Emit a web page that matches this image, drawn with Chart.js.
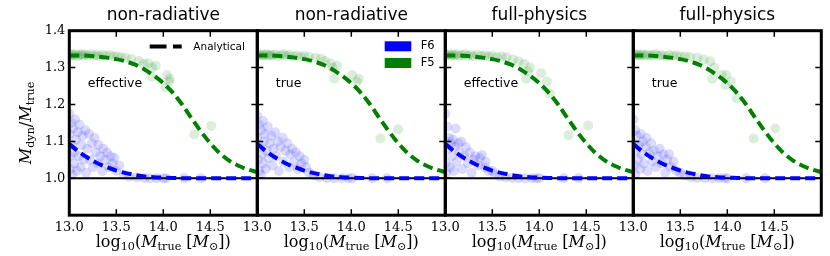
<!DOCTYPE html>
<html>
<head>
<meta charset="utf-8">
<script src="https://cdn.jsdelivr.net/npm/chart.js@4.4.0/dist/chart.umd.min.js"></script>
<style>
    body { margin: 0; background: #ffffff; }
    #wrap { position: relative; width: 830px; height: 256px; }
    #wrap canvas { position: absolute; left: 0; top: 0; }
</style>
</head>
<body>
<div id="wrap">
    <canvas id="p0" width="830" height="256"></canvas>
    <canvas id="p1" width="830" height="256"></canvas>
    <canvas id="p2" width="830" height="256"></canvas>
    <canvas id="p3" width="830" height="256"></canvas>
</div>
<script>
// Mass grid for analytical curves (log10 M_true)
const massGrid = [13.0, 13.1, 13.2, 13.3, 13.4, 13.5, 13.6, 13.7, 13.8, 13.9, 14.0,
                  14.1, 14.2, 14.3, 14.4, 14.5, 14.6, 14.7, 14.8, 14.9, 15.0];
const f5Analytic = [1.333, 1.333, 1.332, 1.330, 1.327, 1.323, 1.317, 1.308, 1.295, 1.278, 1.258,
                    1.232, 1.200, 1.163, 1.127, 1.095, 1.068, 1.048, 1.034, 1.024, 1.017];
const f6Analytic = [1.093, 1.072, 1.055, 1.041, 1.030, 1.021, 1.014, 1.009, 1.005, 1.003, 1.002,
                    1.001, 1.000, 1.000, 1.000, 1.000, 1.000, 1.000, 1.000, 1.000, 1.000];
const unityRatio = 1.0;

const xTickValues = [13.0, 13.5, 14.0, 14.5];
const yTickValues = [1.0, 1.1, 1.2, 1.3, 1.4];

const panelTitles = ['non-radiative', 'non-radiative', 'full-physics', 'full-physics'];
const panelLabels = ['effective', 'true', 'effective', 'true'];

// F5 haloes (green) per panel
const f5NonRadEff = [[13.00,1.335],[13.02,1.332],[13.03,1.337],[13.05,1.333],[13.07,1.336],[13.09,1.331],
    [13.11,1.334],[13.13,1.337],[13.15,1.332],[13.17,1.335],[13.20,1.333],[13.23,1.336],[13.26,1.332],
    [13.29,1.334],[13.32,1.331],[13.35,1.335],[13.39,1.332],[13.43,1.334],[13.47,1.330],[13.51,1.331],
    [13.55,1.328],[13.60,1.327],[13.66,1.323],[13.74,1.318],[13.79,1.310],[13.84,1.312],[13.88,1.300],
    [13.875,1.276],[13.92,1.305],[14.02,1.247],[14.04,1.280],[14.06,1.262],[14.07,1.270],[14.33,1.119],[14.51,1.142]];
const f5NonRadTrue = [[13.00,1.334],[13.02,1.336],[13.04,1.332],[13.06,1.335],[13.08,1.333],[13.10,1.337],
    [13.12,1.332],[13.14,1.335],[13.16,1.333],[13.19,1.336],[13.22,1.331],[13.25,1.334],[13.28,1.336],
    [13.31,1.332],[13.34,1.334],[13.38,1.331],[13.42,1.333],[13.46,1.330],[13.50,1.332],[13.55,1.329],
    [13.62,1.327],[13.68,1.324],[13.72,1.318],[13.78,1.312],[13.80,1.300],[13.82,1.270],[13.85,1.305],
    [14.01,1.280],[14.06,1.262],[14.08,1.270],[14.31,1.108],[14.50,1.133]];
const f5FullEff = [[13.00,1.335],[13.02,1.333],[13.04,1.336],[13.06,1.332],[13.08,1.335],[13.10,1.333],
    [13.12,1.336],[13.15,1.332],[13.18,1.334],[13.21,1.336],[13.24,1.332],[13.27,1.334],[13.30,1.331],
    [13.34,1.335],[13.38,1.332],[13.42,1.333],[13.46,1.331],[13.50,1.332],[13.55,1.329],[13.60,1.330],
    [13.65,1.328],[13.72,1.322],[13.78,1.317],[13.84,1.310],[13.86,1.270],[13.88,1.290],[13.90,1.300],
    [14.02,1.285],[14.08,1.262],[14.11,1.230],[14.31,1.117],[14.52,1.143]];
const f5FullTrue = [[13.00,1.334],[13.02,1.336],[13.04,1.333],[13.06,1.335],[13.08,1.332],[13.10,1.336],
    [13.12,1.333],[13.15,1.335],[13.18,1.332],[13.21,1.334],[13.24,1.336],[13.27,1.332],[13.30,1.334],
    [13.34,1.331],[13.38,1.334],[13.42,1.332],[13.46,1.333],[13.50,1.330],[13.55,1.331],[13.60,1.329],
    [13.68,1.327],[13.75,1.322],[13.82,1.317],[13.84,1.270],[13.86,1.300],[13.94,1.280],[13.98,1.253],
    [13.99,1.280],[14.04,1.262],[14.10,1.217],[14.28,1.108],[14.51,1.135]];

// F6 haloes (blue) per panel
const f6NonRadEff = [[13.00,1.175],[13.00,1.120],[13.01,1.060],[13.01,1.025],[13.02,1.150],[13.03,1.090],
    [13.03,1.010],[13.04,1.135],[13.05,1.070],[13.05,1.040],[13.06,1.160],[13.07,1.105],[13.08,1.020],
    [13.09,1.125],[13.10,1.060],[13.11,1.145],[13.12,1.030],[13.13,1.090],[13.14,1.115],[13.15,1.050],
    [13.17,1.130],[13.18,1.015],[13.19,1.080],[13.21,1.120],[13.22,1.050],[13.24,1.095],[13.25,1.030],
    [13.27,1.110],[13.28,1.070],[13.30,1.040],[13.31,1.090],[13.33,1.060],[13.35,1.020],[13.36,1.080],
    [13.38,1.050],[13.40,1.070],[13.42,1.030],[13.44,1.060],[13.46,1.040],[13.48,1.055],[13.50,1.020],
    [13.53,1.035],[13.58,1.010],[13.64,1.004],[13.72,1.002],[13.80,1.001],[13.86,1.000],[13.93,1.000],
    [14.00,1.000],[14.03,1.000],[14.22,1.000],[14.40,1.000]];
const f6NonRadTrue = [[13.00,1.170],[13.00,1.110],[13.01,1.050],[13.02,1.020],[13.02,1.145],[13.03,1.085],
    [13.04,1.130],[13.04,1.010],[13.05,1.065],[13.06,1.155],[13.06,1.040],[13.07,1.100],[13.08,1.120],
    [13.09,1.025],[13.10,1.075],[13.11,1.140],[13.12,1.055],[13.13,1.095],[13.15,1.115],[13.16,1.035],
    [13.17,1.080],[13.19,1.125],[13.20,1.060],[13.22,1.100],[13.23,1.020],[13.25,1.085],[13.27,1.110],
    [13.28,1.045],[13.30,1.075],[13.32,1.095],[13.34,1.030],[13.35,1.065],[13.37,1.080],[13.39,1.045],
    [13.41,1.070],[13.43,1.025],[13.45,1.060],[13.47,1.040],[13.50,1.050],[13.52,1.030],[13.55,1.015],
    [13.60,1.008],[13.66,1.003],[13.74,1.001],[13.82,1.000],[13.90,1.000],[13.97,1.000],[14.01,1.000],
    [14.22,1.000],[14.38,1.000]];
const f6FullEff = [[13.00,1.175],[13.00,1.100],[13.01,1.040],[13.01,1.015],[13.02,1.140],[13.03,1.080],
    [13.04,1.110],[13.05,1.030],[13.06,1.095],[13.07,1.060],[13.08,1.105],[13.09,1.020],[13.10,1.085],
    [13.11,1.135],[13.12,1.045],[13.14,1.095],[13.15,1.070],[13.17,1.100],[13.18,1.025],[13.20,1.060],
    [13.22,1.085],[13.24,1.040],[13.26,1.070],[13.28,1.015],[13.30,1.050],[13.32,1.060],[13.35,1.035],
    [13.37,1.055],[13.39,1.063],[13.42,1.030],[13.43,1.045],[13.46,1.020],[13.50,1.020],[13.53,1.010],
    [13.58,1.005],[13.64,1.002],[13.71,1.001],[13.78,1.000],[13.85,1.000],[13.92,1.000],[13.97,1.000],
    [14.00,1.000],[14.26,1.000],[14.42,1.000]];
const f6FullTrue = [[13.00,1.160],[13.00,1.095],[13.01,1.035],[13.02,1.130],[13.02,1.010],[13.03,1.075],
    [13.04,1.115],[13.05,1.050],[13.06,1.090],[13.07,1.025],[13.08,1.120],[13.09,1.065],[13.10,1.100],
    [13.11,1.040],[13.13,1.085],[13.14,1.110],[13.15,1.020],[13.17,1.070],[13.19,1.095],[13.20,1.045],
    [13.22,1.075],[13.24,1.030],[13.26,1.060],[13.28,1.080],[13.30,1.040],[13.32,1.065],[13.34,1.015],
    [13.36,1.050],[13.38,1.065],[13.40,1.030],[13.43,1.045],[13.46,1.020],[13.50,1.015],[13.55,1.008],
    [13.61,1.003],[13.68,1.001],[13.76,1.000],[13.84,1.000],[13.91,1.000],[13.97,1.000],[14.00,1.000],
    [14.20,1.000],[14.40,1.000]];

const f5Sets = [f5NonRadEff, f5NonRadTrue, f5FullEff, f5FullTrue];
const f6Sets = [f6NonRadEff, f6NonRadTrue, f6FullEff, f6FullTrue];

// Layout of the four panels (pixels)
const PANEL_LEFT = 69.3;
const PANEL_W = 188;
const AREA_TOP = 30.7;
const AREA_BOTTOM = 215.2;
const Y_AXIS_W = 40;

const xLabelParts = [
    { t: 'log' }, { t: '10', sub: true }, { t: '(' }, { t: 'M', it: true }, { t: 'true', sub: true },
    { t: ' [' }, { t: 'M', it: true }, { t: '\u2299', sub: true }, { t: '])' }
];
const yLabelParts = [
    { t: 'M', it: true }, { t: 'dyn', sub: true }, { t: '/' }, { t: 'M', it: true }, { t: 'true', sub: true }
];

function toXY(pairs) {
    return pairs.map(p => ({ x: p[0], y: p[1] }));
}

function drawMath(ctx, parts, cx, baseY) {
    const fontFor = p => (p.it ? 'italic ' : '') + (p.sub ? '11.2px' : '16px') + ' "DejaVu Serif"';
    const widths = parts.map(p => { ctx.font = fontFor(p); return ctx.measureText(p.t).width; });
    const total = widths.reduce((a, b) => a + b, 0);
    let x = cx - total / 2;
    ctx.textAlign = 'left';
    ctx.textBaseline = 'alphabetic';
    parts.forEach((p, k) => {
        ctx.font = fontFor(p);
        ctx.fillText(p.t, x, baseY + (p.sub ? 3.5 : 0));
        x += widths[k];
    });
}

// Frame, inward ticks, titles, labels and legends
const decor = {
    id: 'decor',
    afterDraw(chart, args, opts) {
        const ctx = chart.ctx;
        const a = chart.chartArea;
        const xs = chart.scales.x, ys = chart.scales.y;
        const cx = (a.left + a.right) / 2;
        ctx.save();
        ctx.strokeStyle = '#000';
        ctx.fillStyle = '#000';

        // inward tick marks
        ctx.lineWidth = 1.5;
        ctx.beginPath();
        xTickValues.forEach(v => {
            const px = xs.getPixelForValue(v);
            ctx.moveTo(px, a.top); ctx.lineTo(px, a.top + 6);
            ctx.moveTo(px, a.bottom); ctx.lineTo(px, a.bottom - 6);
        });
        yTickValues.forEach(v => {
            const py = ys.getPixelForValue(v);
            ctx.moveTo(a.left, py); ctx.lineTo(a.left + 6, py);
            ctx.moveTo(a.right, py); ctx.lineTo(a.right - 6, py);
        });
        ctx.stroke();

        // frame
        ctx.lineWidth = 3;
        ctx.strokeRect(a.left, a.top, a.right - a.left, a.bottom - a.top);

        // title
        ctx.font = '17px "DejaVu Sans"';
        ctx.textAlign = 'center';
        ctx.textBaseline = 'alphabetic';
        ctx.fillText(opts.title, cx, 19.5);

        // inner label
        ctx.font = '12.5px "DejaVu Sans"';
        ctx.textAlign = 'left';
        ctx.fillText(opts.label, a.left + 18.5, 87);

        // x axis label
        drawMath(ctx, xLabelParts, cx, 246.5);

        // y axis label
        if (opts.yLabel) {
            ctx.save();
            ctx.translate(30.5, (a.top + a.bottom) / 2);
            ctx.rotate(-Math.PI / 2);
            drawMath(ctx, yLabelParts, 0, 0);
            ctx.restore();
        }

        // legends
        if (opts.legend === 'analytical') {
            ctx.lineWidth = 4;
            ctx.setLineDash([16.8, 6.5]);
            ctx.beginPath();
            ctx.moveTo(a.left + 80.4, 46.5);
            ctx.lineTo(a.left + 112.4, 46.5);
            ctx.stroke();
            ctx.setLineDash([]);
            ctx.font = '10.5px "DejaVu Sans"';
            ctx.textBaseline = 'middle';
            ctx.fillText('Analytical', a.left + 124, 47);
        } else if (opts.legend === 'models') {
            ctx.fillStyle = '#0000ff';
            ctx.fillRect(a.left + 127.4, 41.3, 26.6, 10);
            ctx.fillStyle = '#008000';
            ctx.fillRect(a.left + 127.4, 58, 26.6, 10);
            ctx.fillStyle = '#000';
            ctx.font = '11.5px "DejaVu Sans"';
            ctx.textBaseline = 'middle';
            ctx.fillText('F6', a.left + 163.4, 46.5);
            ctx.fillText('F5', a.left + 163.4, 63.3);
        }
        ctx.restore();
    }
};

function makePanel(i) {
    const left = PANEL_LEFT + PANEL_W * i;
    const right = left + PANEL_W;
    const showY = i === 0;
    const f5Curve = massGrid.map((m, k) => ({ x: m, y: f5Analytic[k] }));
    const f6Curve = massGrid.map((m, k) => ({ x: m, y: f6Analytic[k] }));
    const unityLine = [{ x: massGrid[0], y: unityRatio }, { x: massGrid[massGrid.length - 1], y: unityRatio }];

    new Chart(document.getElementById('p' + i), {
        type: 'scatter',
        data: {
            datasets: [
                {
                    data: toXY(f5Sets[i]),
                    pointBackgroundColor: 'rgba(0, 128, 0, 0.14)',
                    pointBorderWidth: 0,
                    pointRadius: 5,
                    clip: 0,
                    order: 5
                },
                {
                    data: toXY(f6Sets[i]),
                    pointBackgroundColor: 'rgba(0, 0, 255, 0.14)',
                    pointBorderWidth: 0,
                    pointRadius: 5,
                    clip: 0,
                    order: 4
                },
                {
                    data: unityLine,
                    showLine: true,
                    borderColor: '#000000',
                    borderWidth: 2,
                    pointRadius: 0,
                    clip: 0,
                    order: 3
                },
                {
                    data: f5Curve,
                    showLine: true,
                    borderColor: '#008000',
                    borderWidth: 4,
                    borderDash: [10, 5],
                    cubicInterpolationMode: 'monotone',
                    pointRadius: 0,
                    clip: 0,
                    order: 2
                },
                {
                    data: f6Curve,
                    showLine: true,
                    borderColor: '#0000ff',
                    borderWidth: 4,
                    borderDash: [10, 5],
                    cubicInterpolationMode: 'monotone',
                    pointRadius: 0,
                    clip: 0,
                    order: 1
                }
            ]
        },
        options: {
            responsive: false,
            animation: false,
            events: [],
            layout: {
                padding: { left: showY ? left - Y_AXIS_W : left, right: 830 - right, top: AREA_TOP, bottom: 0 }
            },
            plugins: {
                legend: { display: false },
                tooltip: { enabled: false },
                decor: {
                    title: panelTitles[i],
                    label: panelLabels[i],
                    yLabel: showY,
                    legend: i === 0 ? 'analytical' : (i === 1 ? 'models' : null)
                }
            },
            scales: {
                x: {
                    type: 'linear',
                    min: 13.0,
                    max: 15.0,
                    grid: { display: false, drawTicks: false },
                    border: { display: false },
                    afterBuildTicks: s => { s.ticks = xTickValues.map(v => ({ value: v })); },
                    afterFit: s => { s.height = 256 - AREA_BOTTOM; },
                    ticks: {
                        callback: v => v.toFixed(1),
                        font: { family: 'DejaVu Serif', size: 13 },
                        color: '#000000',
                        padding: 5,
                        maxRotation: 0,
                        autoSkip: false
                    }
                },
                y: {
                    type: 'linear',
                    min: 0.9,
                    max: 1.4,
                    display: showY,
                    grid: { display: false, drawTicks: false },
                    border: { display: false },
                    afterBuildTicks: s => { s.ticks = yTickValues.map(v => ({ value: v })); },
                    afterFit: s => { s.width = showY ? Y_AXIS_W : 0; },
                    ticks: {
                        callback: v => v.toFixed(1),
                        font: { family: 'DejaVu Serif', size: 13 },
                        color: '#000000',
                        padding: 4
                    }
                }
            }
        },
        plugins: [decor]
    });
}

for (let i = 0; i < 4; i++) {
    makePanel(i);
}
</script>
</body>
</html>
